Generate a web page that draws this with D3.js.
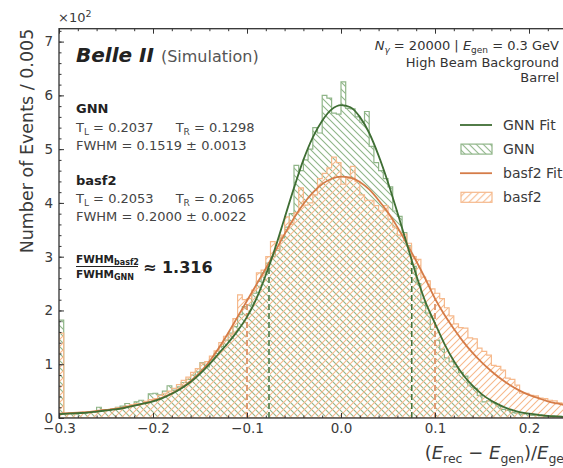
<!DOCTYPE html>
<html>
<head>
<meta charset="utf-8">
<script src="https://cdn.jsdelivr.net/npm/d3@7"></script>
<style>
  body { margin: 0; background: #fff; }
  svg { display: block; font-family: "DejaVu Sans", sans-serif; }
</style>
</head>
<body>
<div id="chart"></div>
<script>
// histogram bins of width 0.005 starting at -0.3, counts in units of 10^2
var binStart = -0.3, binWidth = 0.005;

var gnnCounts = [
  1.82, 0.08, 0.09, 0.07, 0.10, 0.09, 0.11, 0.12, 0.20, 0.13,
  0.14, 0.16, 0.20, 0.22, 0.27, 0.24, 0.30, 0.33, 0.28, 0.45,
  0.46, 0.43, 0.50, 0.60, 0.52, 0.58, 0.66, 0.72, 0.80, 0.86,
  1.03, 0.95, 1.08, 1.20, 1.33, 1.45, 1.58, 1.70, 1.92, 2.07,
  2.10, 2.32, 2.54, 2.70, 2.88, 3.00, 3.12, 3.35, 3.55, 3.80,
  4.70, 4.60, 4.80, 5.00, 5.40, 5.30, 6.00, 5.95, 5.67, 5.65,
  6.25, 5.76, 5.75, 5.60, 5.50, 5.70, 5.05, 4.75, 4.60, 4.45,
  4.30, 3.85, 3.75, 3.45, 3.20, 2.82, 2.50, 2.15, 1.95, 1.65,
  1.45, 1.28, 1.12, 1.05, 0.95, 0.85, 0.78, 0.60, 0.55, 0.42,
  0.30, 0.32, 0.28, 0.22, 0.16, 0.14, 0.10, 0.09, 0.07, 0.08,
  0.05, 0.05, 0.04, 0.03, 0.03, 0.02, 0.03, 0.02, 0.02, 0.02
];

var basf2Counts = [
  1.58, 0.07, 0.08, 0.10, 0.09, 0.11, 0.10, 0.12, 0.13, 0.15,
  0.14, 0.17, 0.19, 0.18, 0.22, 0.25, 0.27, 0.26, 0.31, 0.34,
  0.36, 0.42, 0.46, 0.50, 0.55, 0.62, 0.70, 0.76, 0.85, 0.92,
  1.02, 1.05, 1.15, 1.25, 1.40, 1.52, 1.56, 1.85, 2.29, 2.20,
  2.22, 2.38, 2.70, 2.75, 3.00, 3.28, 3.15, 3.40, 3.74, 3.60,
  3.82, 4.28, 3.96, 4.00, 4.15, 4.45, 4.55, 4.65, 4.85, 4.75,
  4.35, 4.45, 4.68, 4.40, 4.15, 4.05, 4.05, 3.95, 3.85, 3.95,
  3.70, 3.55, 3.40, 3.42, 3.25, 3.00, 2.95, 2.62, 2.55, 2.40,
  2.32, 2.22, 2.05, 1.90, 1.75, 1.68, 1.67, 1.49, 1.47, 1.30,
  1.24, 1.17, 0.98, 0.96, 0.89, 0.74, 0.72, 0.61, 0.46, 0.46,
  0.42, 0.41, 0.37, 0.36, 0.33, 0.32, 0.28, 0.27, 0.25, 0.24
];

// fitted curves
var fitX = [
  -0.30, -0.29, -0.28, -0.27, -0.26, -0.25, -0.24, -0.23, -0.22, -0.21,
  -0.20, -0.19, -0.18, -0.17, -0.16, -0.15, -0.14, -0.13, -0.12, -0.11,
  -0.10, -0.09, -0.08, -0.07, -0.06, -0.05, -0.04, -0.03, -0.02, -0.01,
   0.00,  0.01,  0.02,  0.03,  0.04,  0.05,  0.06,  0.07,  0.08,  0.09,
   0.10,  0.11,  0.12,  0.13,  0.14,  0.15,  0.16,  0.17,  0.18,  0.19,
   0.20,  0.21,  0.22,  0.23,  0.24,  0.25
];
var gnnFit = [
  0.07, 0.08, 0.09, 0.10, 0.12, 0.14, 0.16, 0.19, 0.23, 0.27,
  0.31, 0.37, 0.45, 0.55, 0.67, 0.82, 1.00, 1.20, 1.40, 1.62,
  1.88, 2.22, 2.66, 3.16, 3.72, 4.28, 4.80, 5.22, 5.53, 5.74,
  5.82, 5.78, 5.60, 5.30, 4.88, 4.38, 3.82, 3.24, 2.66, 2.15,
  1.76, 1.38, 1.06, 0.80, 0.60, 0.44, 0.32, 0.23, 0.16, 0.11,
  0.08, 0.06, 0.04, 0.03, 0.02, 0.02
];
var basf2Fit = [
  0.08, 0.09, 0.10, 0.11, 0.13, 0.15, 0.17, 0.20, 0.23, 0.27,
  0.32, 0.38, 0.46, 0.56, 0.69, 0.85, 1.05, 1.30, 1.58, 1.88,
  2.18, 2.48, 2.78, 3.10, 3.42, 3.72, 3.98, 4.19, 4.35, 4.45,
  4.49, 4.47, 4.39, 4.25, 4.05, 3.82, 3.55, 3.24, 2.92, 2.58,
  2.22, 1.92, 1.66, 1.42, 1.21, 1.03, 0.87, 0.73, 0.61, 0.51,
  0.43, 0.37, 0.31, 0.27, 0.23, 0.20
];

// FWHM markers
var gnnFwhmX = [-0.0766, 0.0753], gnnHalfMax = 2.90;
var basf2FwhmX = [-0.1, 0.1], basf2HalfMax = 2.21;

var xTicks = [-0.3, -0.2, -0.1, 0.0, 0.1, 0.2];
var yTicks = [0, 1, 2, 3, 4, 5, 6, 7];

var colors = {
  gnnFit: "#3f6e34", gnnHist: "#8fb588",
  basf2Fit: "#d57c48", basf2Hist: "#f6b98c",
  axis: "#333333", text: "#3a3a3a"
};

var W = 563, H = 468;
var plotL = 59, plotR = 576, plotT = 28.7, plotB = 418;

var svg = d3.select("#chart").append("svg")
  .attr("width", W).attr("height", H);

var x = d3.scaleLinear().domain([-0.3, 0.25]).range([plotL, plotR]);
var y = d3.scaleLinear().domain([0, 7.24]).range([plotB, plotT]);

var defs = svg.append("defs");
defs.append("clipPath").attr("id", "plotclip")
  .append("rect").attr("x", plotL).attr("y", plotT)
  .attr("width", plotR - plotL).attr("height", plotB - plotT);

function hatch(id, color, back) {
  var s = 7;
  var p = defs.append("pattern").attr("id", id)
    .attr("patternUnits", "userSpaceOnUse")
    .attr("width", s).attr("height", s);
  var d = back
    ? "M0,0L" + s + "," + s + "M-1," + (s - 1) + "L1," + (s + 1) + "M" + (s - 1) + ",-1L" + (s + 1) + ",1"
    : "M0," + s + "L" + s + ",0M-1,1L1,-1M" + (s - 1) + "," + (s + 1) + "L" + (s + 1) + "," + (s - 1);
  p.append("path").attr("d", d).attr("stroke", color)
    .attr("stroke-width", 1.1).attr("fill", "none");
}
hatch("hatchGnn", colors.gnnHist, true);
hatch("hatchBasf2", colors.basf2Hist, false);

var plot = svg.append("g").attr("clip-path", "url(#plotclip)");

function binPoints(counts) {
  var pts = counts.map(function(c, i) { return { x: binStart + i * binWidth, y: c }; });
  pts.push({ x: binStart + counts.length * binWidth, y: counts[counts.length - 1] });
  return pts;
}

var histArea = d3.area()
  .curve(d3.curveStepAfter)
  .x(function(d) { return x(d.x); })
  .y0(y(0))
  .y1(function(d) { return y(d.y); });

plot.append("path").datum(binPoints(gnnCounts))
  .attr("d", histArea)
  .attr("fill", "url(#hatchGnn)")
  .attr("stroke", colors.gnnHist).attr("stroke-width", 1.2);

plot.append("path").datum(binPoints(basf2Counts))
  .attr("d", histArea)
  .attr("fill", "url(#hatchBasf2)")
  .attr("stroke", colors.basf2Hist).attr("stroke-width", 1.2);

// dashed FWHM lines
function fwhmLines(xs, h, color) {
  xs.forEach(function(v) {
    plot.append("line")
      .attr("x1", x(v)).attr("x2", x(v)).attr("y1", y(0)).attr("y2", y(h))
      .attr("stroke", "#fff").attr("stroke-width", 1.6);
    plot.append("line")
      .attr("x1", x(v)).attr("x2", x(v)).attr("y1", y(0)).attr("y2", y(h))
      .attr("stroke", color).attr("stroke-width", 1.5)
      .attr("stroke-dasharray", "6,3");
  });
}
fwhmLines(basf2FwhmX, basf2HalfMax, colors.basf2Fit);
fwhmLines(gnnFwhmX, gnnHalfMax, colors.gnnFit);

var fitLine = d3.line()
  .curve(d3.curveMonotoneX)
  .x(function(d) { return x(d[0]); })
  .y(function(d) { return y(d[1]); });

plot.append("path").datum(d3.zip(fitX, basf2Fit))
  .attr("d", fitLine).attr("fill", "none")
  .attr("stroke", colors.basf2Fit).attr("stroke-width", 1.8);

plot.append("path").datum(d3.zip(fitX, gnnFit))
  .attr("d", fitLine).attr("fill", "none")
  .attr("stroke", colors.gnnFit).attr("stroke-width", 1.8);

// axes: ticks point inward, minor ticks too
function styleAxis(g) {
  g.select(".domain").remove();
  g.selectAll(".tick line").attr("stroke", colors.axis).attr("stroke-width", 1);
  g.selectAll(".tick text").attr("fill", colors.text)
    .style("font-family", "DejaVu Sans").style("font-size", "13.5px");
}

var xMinor = d3.range(-0.3, 0.2501, 0.02);
var yMinor = d3.range(0, 7.21, 0.2);

svg.append("g").attr("transform", "translate(0," + plotB + ")")
  .call(d3.axisBottom(x).tickValues(xMinor).tickSize(-2.5).tickFormat(""))
  .call(styleAxis);
svg.append("g").attr("transform", "translate(0," + plotB + ")")
  .call(d3.axisBottom(x).tickValues(xTicks).tickSize(-5).tickPadding(5)
    .tickFormat(d3.format(".1f")))
  .call(styleAxis);

svg.append("g").attr("transform", "translate(0," + plotT + ")")
  .call(d3.axisTop(x).tickValues(xMinor).tickSize(-2.5).tickFormat(""))
  .call(styleAxis);
svg.append("g").attr("transform", "translate(0," + plotT + ")")
  .call(d3.axisTop(x).tickValues(xTicks).tickSize(-5).tickFormat(""))
  .call(styleAxis);

svg.append("g").attr("transform", "translate(" + plotL + ",0)")
  .call(d3.axisLeft(y).tickValues(yMinor).tickSize(-2.5).tickFormat(""))
  .call(styleAxis);
svg.append("g").attr("transform", "translate(" + plotL + ",0)")
  .call(d3.axisLeft(y).tickValues(yTicks).tickSize(-5).tickPadding(6)
    .tickFormat(d3.format("d")))
  .call(styleAxis);

// frame
svg.append("rect").attr("x", plotL).attr("y", plotT)
  .attr("width", plotR - plotL).attr("height", plotB - plotT)
  .attr("fill", "none").attr("stroke", colors.axis).attr("stroke-width", 1.3);

// offset label
var off = svg.append("text").attr("x", 58).attr("y", 22)
  .attr("fill", colors.text).style("font-size", "13px");
off.append("tspan").text("×10");
off.append("tspan").attr("dy", -5).style("font-size", "9.5px").text("2");

// axis titles
svg.append("text")
  .attr("transform", "translate(33," + plotT + ") rotate(-90)")
  .attr("text-anchor", "end").attr("fill", colors.text)
  .style("font-size", "17.5px")
  .text("Number of Events / 0.005");

var xl = svg.append("text").attr("x", plotR - 4).attr("y", 459)
  .attr("text-anchor", "end").attr("fill", colors.text).style("font-size", "18px");
xl.append("tspan").text("(");
xl.append("tspan").style("font-style", "italic").text("E");
xl.append("tspan").attr("dy", 4).style("font-size", "12.5px").text("rec");
xl.append("tspan").attr("dy", -4).text(" − ");
xl.append("tspan").style("font-style", "italic").text("E");
xl.append("tspan").attr("dy", 4).style("font-size", "12.5px").text("gen");
xl.append("tspan").attr("dy", -4).text(")/");
xl.append("tspan").style("font-style", "italic").text("E");
xl.append("tspan").attr("dy", 4).style("font-size", "12.5px").text("gen");

// Belle II header
var bt = svg.append("text").attr("x", 76).attr("y", 62);
bt.append("tspan").style("font-weight", "bold").style("font-style", "italic")
  .style("font-size", "20px").attr("fill", "#222").text("Belle II");
bt.append("tspan").attr("dx", 7).style("font-size", "16px").attr("fill", "#555")
  .text("(Simulation)");

// left info block
function infoTitle(txt, yy) {
  svg.append("text").attr("x", 76).attr("y", yy)
    .style("font-weight", "bold").style("font-size", "13px").attr("fill", "#222").text(txt);
}
function tLine(tl, tr, yy) {
  var t = svg.append("text").attr("x", 76).attr("y", yy)
    .style("font-size", "13px").attr("fill", "#444");
  t.append("tspan").text("T");
  t.append("tspan").attr("dy", 3).style("font-size", "9px").text("L");
  t.append("tspan").attr("dy", -3).text(" = " + tl);
  t.append("tspan").attr("dx", 22).text("T");
  t.append("tspan").attr("dy", 3).style("font-size", "9px").text("R");
  t.append("tspan").attr("dy", -3).text(" = " + tr);
}
function fwhmText(val, err, yy) {
  svg.append("text").attr("x", 76).attr("y", yy)
    .style("font-size", "13px").attr("fill", "#444")
    .text("FWHM = " + val + " ± " + err);
}
infoTitle("GNN", 113);
tLine("0.2037", "0.1298", 132);
fwhmText("0.1519", "0.0013", 150);
infoTitle("basf2", 185);
tLine("0.2053", "0.2065", 203);
fwhmText("0.2000", "0.0022", 221);

// ratio
var num = svg.append("text").attr("x", 76).attr("y", 263)
  .style("font-weight", "bold").style("font-size", "10.5px").attr("fill", "#222");
num.append("tspan").text("FWHM");
num.append("tspan").attr("dy", 2).style("font-size", "8px").text("basf2");
svg.append("line").attr("x1", 76).attr("x2", 138).attr("y1", 266.5).attr("y2", 266.5)
  .attr("stroke", "#222").attr("stroke-width", 1);
var den = svg.append("text").attr("x", 76).attr("y", 278)
  .style("font-weight", "bold").style("font-size", "10.5px").attr("fill", "#222");
den.append("tspan").text("FWHM");
den.append("tspan").attr("dy", 2).style("font-size", "8px").text("GNN");
svg.append("text").attr("x", 143).attr("y", 273)
  .style("font-weight", "bold").style("font-size", "16px").attr("fill", "#222")
  .text("≈ 1.316");

// top-right info
var info = svg.append("text").attr("x", 559).attr("y", 50)
  .attr("text-anchor", "end").style("font-size", "13px").attr("fill", "#333");
info.append("tspan").style("font-style", "italic").text("N");
info.append("tspan").attr("dy", 3).style("font-size", "9px").style("font-style", "italic").text("γ");
info.append("tspan").attr("dy", -3).text(" = 20000 | ");
info.append("tspan").style("font-style", "italic").text("E");
info.append("tspan").attr("dy", 3).style("font-size", "9px").text("gen");
info.append("tspan").attr("dy", -3).text(" = 0.3 GeV");
svg.append("text").attr("x", 559).attr("y", 67).attr("text-anchor", "end")
  .style("font-size", "13px").attr("fill", "#333").text("High Beam Background");
svg.append("text").attr("x", 559).attr("y", 82).attr("text-anchor", "end")
  .style("font-size", "13px").attr("fill", "#333").text("Barrel");

// legend
var legendItems = [
  { label: "GNN Fit", type: "line", color: colors.gnnFit },
  { label: "GNN", type: "patch", color: colors.gnnHist, fill: "url(#hatchGnn)" },
  { label: "basf2 Fit", type: "line", color: colors.basf2Fit },
  { label: "basf2", type: "patch", color: colors.basf2Hist, fill: "url(#hatchBasf2)" }
];
var legend = svg.append("g").attr("transform", "translate(460,125)");
legendItems.forEach(function(d, i) {
  var g = legend.append("g").attr("transform", "translate(0," + (i * 24.1) + ")");
  if (d.type === "line") {
    g.append("line").attr("x1", 0).attr("x2", 32).attr("y1", 0).attr("y2", 0)
      .attr("stroke", d.color).attr("stroke-width", 1.8);
  } else {
    g.append("rect").attr("x", 1).attr("y", -5).attr("width", 31).attr("height", 10)
      .attr("fill", d.fill).attr("stroke", d.color).attr("stroke-width", 1.2);
  }
  g.append("text").attr("x", 43).attr("y", 5)
    .style("font-size", "14px").attr("fill", colors.text).text(d.label);
});
</script>
</body>
</html>
